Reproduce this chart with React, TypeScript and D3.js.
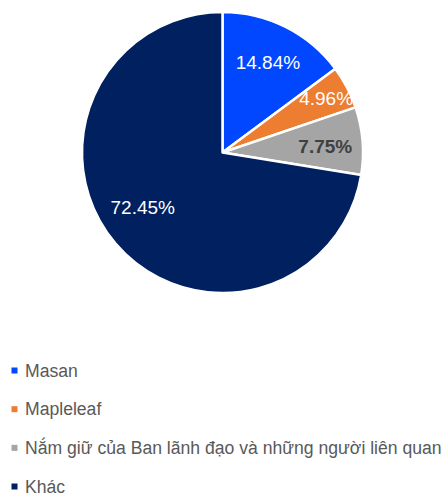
import React from "react";
import * as d3 from "d3";

const categories = ["Masan", "Mapleleaf", "Nắm giữ của Ban lãnh đạo và những người liên quan", "Khác"];
const values = [14.84, 4.96, 7.75, 72.45];
const labels = ["14.84%", "4.96%", "7.75%", "72.45%"];
const colors = ["#0047FF", "#ED7D31", "#A5A5A5", "#002060"];
const labelColors = ["#FFFFFF", "#FFFFFF", "#404040", "#FFFFFF"];
const labelWeights = ["normal", "normal", "bold", "normal"];
const labelRadius = [101, 117, 103, 97];
const labelAngleShift = [0, 0, 0.02, 0.1];

export default function App() {
  const W = 445, H = 497;
  const cx = 222.5, cy = 152.5, R = 140.5;
  const pie = d3.pie<number>().sort(null).value((d) => d);
  const arcs = pie(values);
  const arc = d3.arc<d3.PieArcDatum<number>>().innerRadius(0).outerRadius(R);
  const font = "'Liberation Sans', Arial, sans-serif";
  const legendY = d3.scaleLinear().domain([0, 3]).range([376.5, 492.5]);
  return (
    <svg width={W} height={H} style={{ position: "absolute", left: 0, top: 0, background: "#fff" }}>
      <g transform={`translate(${cx},${cy})`}>
        {arcs.map((a, i) => (
          <path key={i} d={arc(a) || ""} fill={colors[i]} stroke="#fff" strokeWidth={2.5} strokeLinejoin="round" />
        ))}
        {arcs.map((a, i) => {
          const ang = (a.startAngle + a.endAngle) / 2 + labelAngleShift[i];
          const x = labelRadius[i] * Math.sin(ang);
          const y = -labelRadius[i] * Math.cos(ang);
          return (
            <text key={i} x={x} y={y} dy="0.35em" textAnchor="middle" fontFamily={font} fontSize={19}
              fontWeight={labelWeights[i]} fill={labelColors[i]}>{labels[i]}</text>
          );
        })}
      </g>
      {categories.map((c, i) => (
        <g key={i}>
          <rect x={11.5} y={legendY(i) - 9} width={6} height={6} fill={colors[i]} />
          <text x={25} y={legendY(i)} fontFamily={font} fontSize={17.6} fill="#595959">{c}</text>
        </g>
      ))}
    </svg>
  );
}
